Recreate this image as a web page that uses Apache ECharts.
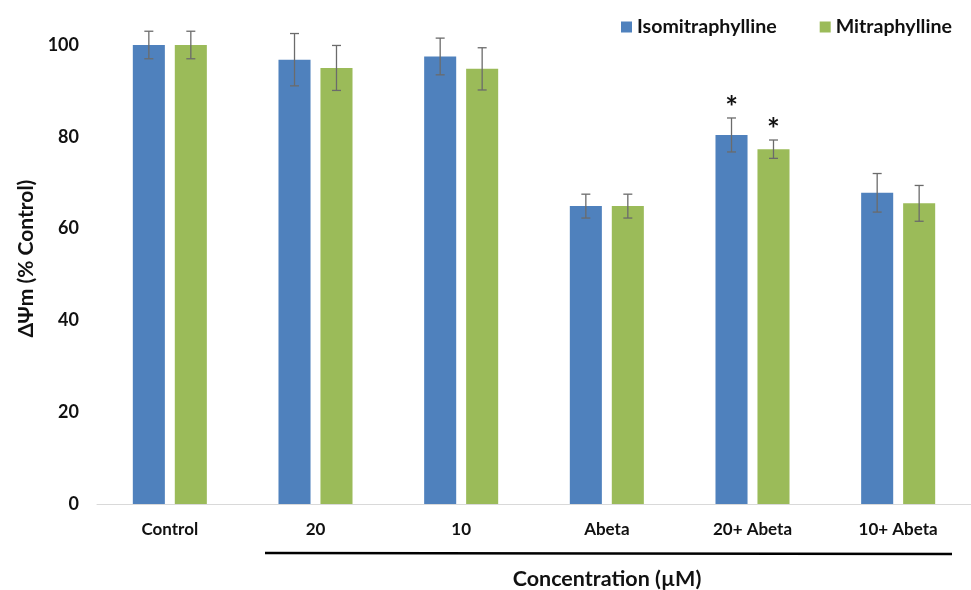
<!DOCTYPE html>
<html>
<head>
<meta charset="utf-8">
<script src="https://cdn.jsdelivr.net/npm/echarts@6/dist/echarts.min.js"></script>
<style>html,body{margin:0;padding:0;background:#fff}#c{width:971px;height:590px}</style>
</head>
<body>
<div id="c"></div>
<script>
var categories = ['Control', '20', '10', 'Abeta', '20+ Abeta', '10+ Abeta'];
var isoValues = [100, 96.8, 97.5, 64.9, 80.4, 67.8];
var isoErrors = [3, 5.7, 4.0, 2.6, 3.7, 4.2];
var isoMarks = ['', '', '', '', '*', ''];
var mitValues = [100, 95.0, 94.8, 64.9, 77.3, 65.5];
var mitErrors = [3, 4.9, 4.6, 2.6, 2.0, 3.9];
var mitMarks = ['', '', '', '', '*', ''];
var yTicks = [0, 20, 40, 60, 80, 100];

var FONT = 'Lato';
var BAR_FRAC = 0.22, GAP_FRAC = 0.31;

function errorSeries(values, errors, marks, side) {
  return {
    type: 'custom',
    clip: false,
    z: 5,
    data: values.map(function (v, i) { return [i, v, errors[i]]; }),
    renderItem: function (params, api) {
      var idx = api.value(0), v = api.value(1), e = api.value(2);
      var mark = marks[idx];
      var band = api.size([1, 0])[0];
      var bw = band * BAR_FRAC;
      var off = side * (bw + bw * GAP_FRAC) / 2;
      var top = api.coord([idx, v + e]);
      var bot = api.coord([idx, v - e]);
      var x = top[0] + off;
      var cap = 4.5;
      var st = { stroke: '#6b6b6b', lineWidth: 1.3 };
      var children = [
        { type: 'line', shape: { x1: x, y1: top[1], x2: x, y2: bot[1] }, style: st },
        { type: 'line', shape: { x1: x - cap, y1: top[1], x2: x + cap, y2: top[1] }, style: st },
        { type: 'line', shape: { x1: x - cap, y1: bot[1], x2: x + cap, y2: bot[1] }, style: st }
      ];
      if (mark) {
        children.push({ type: 'text', style: { text: mark, x: x, y: top[1] - 10, align: 'center', verticalAlign: 'middle', fontSize: 30, fontWeight: 'bold', fontFamily: FONT, fill: '#111' } });
      }
      return { type: 'group', children: children };
    }
  };
}

var chart = echarts.init(document.getElementById('c'), null, { renderer: 'canvas' });
chart.setOption({
  backgroundColor: '#ffffff',
  animation: false,
  legend: {
    left: 616, top: 12,
    icon: 'rect', itemWidth: 11, itemHeight: 11, itemGap: 43,
    textStyle: { fontFamily: FONT, fontWeight: 'bold', fontSize: 19.6, color: '#111', padding: [0, 0, 0, 0] },
    data: ['Isomitraphylline', 'Mitraphylline']
  },
  grid: { left: 97, right: 0, top: 45, bottom: 86 },
  xAxis: {
    type: 'category',
    data: categories,
    axisLine: { lineStyle: { color: '#d9d9d9', width: 1 } },
    axisTick: { show: false },
    axisLabel: { fontFamily: FONT, fontWeight: 'bold', fontSize: 17, color: '#111', margin: 17 }
  },
  yAxis: {
    type: 'value', min: 0, max: 100, interval: 20,
    name: 'ΔΨm (% Control)', nameLocation: 'middle', nameGap: 60,
    nameTextStyle: { fontFamily: FONT, fontWeight: 'bold', fontSize: 21, color: '#111', padding: [0, 0, 0, 32] },
    axisLine: { show: false }, axisTick: { show: false }, splitLine: { show: false },
    axisLabel: { fontFamily: FONT, fontWeight: 'bold', fontSize: 18, color: '#111', margin: 18,
      formatter: function (v) { return yTicks.indexOf(v) >= 0 ? String(v) : ''; } }
  },
  series: [
    { name: 'Isomitraphylline', type: 'bar', data: isoValues, barWidth: (BAR_FRAC * 100) + '%', barGap: (GAP_FRAC * 100) + '%', itemStyle: { color: '#4F81BD' } },
    { name: 'Mitraphylline', type: 'bar', data: mitValues, barWidth: (BAR_FRAC * 100) + '%', barGap: (GAP_FRAC * 100) + '%', itemStyle: { color: '#9BBB59' } },
    errorSeries(isoValues, isoErrors, isoMarks, -1),
    errorSeries(mitValues, mitErrors, mitMarks, 1)
  ],
  graphic: [
    { type: 'line', shape: { x1: 265, y1: 553, x2: 952, y2: 554 }, style: { stroke: '#000', lineWidth: 2.5 } },
    { type: 'text', style: { text: 'Concentration (µM)', x: 607, y: 579, align: 'center', verticalAlign: 'middle', fontFamily: FONT, fontWeight: 'bold', fontSize: 21.5, fill: '#111' } }
  ]
});
</script>
</body>
</html>
